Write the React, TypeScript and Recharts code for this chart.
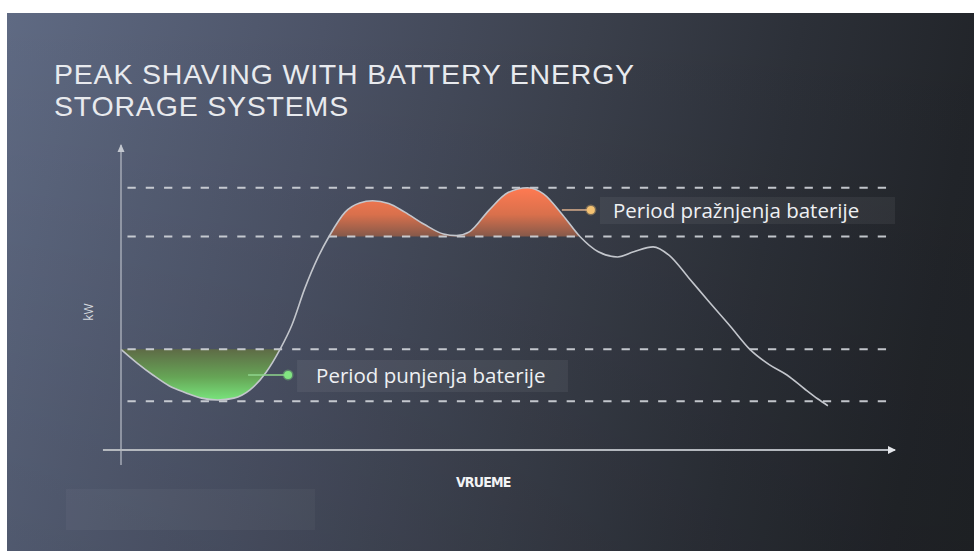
import {
  Area,
  ComposedChart,
  Label,
  Line,
  ReferenceArea,
  ReferenceDot,
  ReferenceLine,
  XAxis,
  YAxis,
} from "recharts";

// time of day (h) and load (kW)
const times = [
  0, 0.5, 1, 1.5, 2, 2.5, 3, 3.5, 4, 4.5, 4.93, 5.3, 5.7, 6.1, 6.45, 6.95, 7.4, 7.8, 8.3, 8.8, 9.4,
  10, 10.4, 10.8, 11.4, 12, 12.6, 13.1, 13.7, 14.23, 14.8, 15.4, 15.9, 16.5, 17, 17.6, 18.2, 18.9,
  19.5, 20.1, 20.65, 21.2, 21.6, 21.92,
];
const load = [
  33, 28.5, 24.5, 21, 18.8, 17, 16.4, 17, 19.7, 25.5, 33, 41, 53, 63, 70, 78, 81, 81.7, 80.8, 78, 74,
  70.8, 70.3, 71.5, 78.5, 84.4, 86, 84, 77, 70, 65, 63.3, 65, 66.6, 63.8, 56.5, 49, 40.5,
  33, 28, 24.6, 20, 16.8, 14.5,
];

const titleLines = ["PEAK SHAVING WITH BATTERY ENERGY", "STORAGE SYSTEMS"];
const guideLevels = [86, 70, 33, 16];
const chargeLevel = 33;
const dischargeLevel = 70;
const chargeWindow = [0, 4.93];
const dischargeWindow = [6.45, 14.23];

const chargeNote = { text: "Period punjenja baterije", from: 3.94, to: 5.18, y: 24.6, box: [5.46, 13.86, 19, 29.5] };
const dischargeNote = { text: "Period pražnjenja baterije", from: 13.67, to: 14.57, y: 78.7, box: [14.85, 24, 74.1, 82.95] };

const rows = times.map((t, i) => {
  const v = load[i];
  return {
    t,
    v,
    charge: t >= chargeWindow[0] && t <= chargeWindow[1] ? [Math.min(v, chargeLevel), chargeLevel] : null,
    discharge:
      t >= dischargeWindow[0] && t <= dischargeWindow[1] ? [dischargeLevel, Math.max(v, dischargeLevel)] : null,
  };
});

const noteFont = { fontFamily: "'Open Sans', sans-serif", fontSize: 20.5, fill: "#eef0f3" };

function ArrowUp(p: any) {
  return <polygon points={`${p.cx},${p.cy - 1} ${p.cx - 3.5},${p.cy + 7} ${p.cx + 3.5},${p.cy + 7}`} fill="#c4c8d0" />;
}

function ArrowRight(p: any) {
  return <polygon points={`${p.cx + 1},${p.cy} ${p.cx - 7},${p.cy - 4} ${p.cx - 7},${p.cy + 4}`} fill="#e4e6ea" />;
}

function XTitle({ viewBox }: any) {
  return (
    <text
      x={viewBox.x + viewBox.width * 0.468}
      y={viewBox.y + 37}
      textAnchor="middle"
      fill="#f2f3f5"
      fontFamily="'DejaVu Sans Condensed', 'DejaVu Sans', sans-serif"
      fontWeight="bold"
      fontSize={14}
      letterSpacing={-0.8}
    >
      VRUEME
    </text>
  );
}

function YTitle({ viewBox }: any) {
  const x = viewBox.x + 28;
  const y = viewBox.y + viewBox.height * 0.548;
  return (
    <text
      x={x}
      y={y}
      transform={`rotate(-90, ${x}, ${y})`}
      textAnchor="middle"
      dominantBaseline="central"
      fill="#d4d8de"
      fontFamily="'Open Sans', sans-serif"
      fontSize={12}
    >
      kW
    </text>
  );
}

export default function App() {
  return (
    <div style={{ position: "fixed", left: 0, top: 0, width: 974, height: 551, background: "#ffffff", overflow: "hidden" }}>
      <div
        style={{
          position: "absolute",
          left: 7,
          top: 13,
          right: 0,
          bottom: 0,
          background:
            "linear-gradient(180deg, rgba(0,0,0,0) 0%, rgba(0,0,0,0.1) 100%), linear-gradient(100deg, #5f6a83 0%, #4c5367 30%, #3b404c 55%, #2c3038 75%, #22252a 92%, #202327 100%)",
        }}
      />
      {titleLines.map((line, i) => (
        <div
          key={line}
          style={{
            position: "absolute",
            left: 54,
            top: 58 + i * 32,
            height: 32,
            fontFamily: "'Liberation Sans', Arial, sans-serif",
            fontSize: 28.5,
            letterSpacing: 0.8,
            lineHeight: "32px",
            color: "#e8eaee",
            whiteSpace: "nowrap",
          }}
        >
          {line}
        </div>
      ))}
      <div
        style={{
          position: "absolute",
          left: 66,
          top: 489,
          width: 249,
          height: 41,
          background: "rgba(255,255,255,0.035)",
        }}
      />

      <div style={{ position: "absolute", left: 0, top: 0 }}>
        <ComposedChart width={974} height={551} data={rows} margin={{ top: 145, right: 79, bottom: 71, left: 61 }}>
          <defs>
            <linearGradient id="dischargeFill" x1="0" y1="0" x2="0" y2="1">
              <stop offset="0%" stopColor="#ff7a52" />
              <stop offset="55%" stopColor="#d9704c" />
              <stop offset="100%" stopColor="#85594a" />
            </linearGradient>
            <linearGradient id="chargeFill" x1="0" y1="0" x2="0" y2="1">
              <stop offset="0%" stopColor="#5e6b46" />
              <stop offset="55%" stopColor="#66a556" />
              <stop offset="100%" stopColor="#78e47c" />
            </linearGradient>
          </defs>

          <XAxis
            dataKey="t"
            type="number"
            domain={[0, 24]}
            axisLine={false}
            tickLine={false}
            tick={false}
            height={30}
            label={<Label content={XTitle} />}
          />
          <YAxis
            type="number"
            domain={[0, 100]}
            axisLine={false}
            tickLine={false}
            tick={false}
            width={60}
            label={<Label content={YTitle} />}
          />

          <ReferenceArea
            x1={chargeNote.box[0]}
            x2={chargeNote.box[1]}
            y1={chargeNote.box[2]}
            y2={chargeNote.box[3]}
            fill="rgba(255,255,255,0.06)"
            fillOpacity={1}
            stroke="none"
            label={{ value: chargeNote.text, position: "insideLeft", offset: 19, ...noteFont }}
          />
          <ReferenceArea
            x1={dischargeNote.box[0]}
            x2={dischargeNote.box[1]}
            y1={dischargeNote.box[2]}
            y2={dischargeNote.box[3]}
            fill="rgba(255,255,255,0.06)"
            fillOpacity={1}
            stroke="none"
            label={{ value: dischargeNote.text, position: "insideLeft", offset: 13, ...noteFont }}
          />

          <Area
            dataKey="discharge"
            type="monotone"
            fill="url(#dischargeFill)"
            fillOpacity={1}
            stroke="none"
            connectNulls={false}
            isAnimationActive={false}
          />
          <Area
            dataKey="charge"
            type="monotone"
            fill="url(#chargeFill)"
            fillOpacity={1}
            stroke="none"
            connectNulls={false}
            isAnimationActive={false}
          />

          {guideLevels.map((y) => (
            <ReferenceLine
              key={y}
              segment={[{ x: 0.2, y }, { x: 23.95, y }]}
              stroke="#d3d6dc"
              strokeOpacity={0.9}
              strokeWidth={2}
              strokeDasharray="8.3 10"
              ifOverflow="visible"
            />
          ))}

          <Line
            dataKey="v"
            type="monotone"
            stroke="#c3c6cc"
            strokeWidth={1.6}
            dot={false}
            activeDot={false}
            isAnimationActive={false}
          />

          <ReferenceLine
            segment={[{ x: 0, y: -4.9 }, { x: 0, y: 100 }]}
            stroke="#a4aab6"
            strokeWidth={1.5}
            ifOverflow="visible"
          />
          <ReferenceLine
            segment={[{ x: -0.56, y: 0 }, { x: 24, y: 0 }]}
            stroke="#b4b8be"
            strokeWidth={2}
            ifOverflow="visible"
          />
          <ReferenceDot x={0} y={100} shape={ArrowUp} ifOverflow="visible" />
          <ReferenceDot x={24} y={0} shape={ArrowRight} ifOverflow="visible" />

          <ReferenceLine
            segment={[{ x: chargeNote.from, y: chargeNote.y }, { x: chargeNote.to, y: chargeNote.y }]}
            stroke="#8fd48c"
            strokeWidth={1.5}
            ifOverflow="visible"
          />
          <ReferenceDot
            x={chargeNote.to}
            y={chargeNote.y}
            r={4}
            fill="#82e482"
            stroke="rgba(130,228,130,0.35)"
            strokeWidth={3}
            ifOverflow="visible"
          />
          <ReferenceLine
            segment={[{ x: dischargeNote.from, y: dischargeNote.y }, { x: dischargeNote.to, y: dischargeNote.y }]}
            stroke="#d9ae8c"
            strokeWidth={1.5}
            ifOverflow="visible"
          />
          <ReferenceDot
            x={dischargeNote.to}
            y={dischargeNote.y}
            r={4}
            fill="#f4c272"
            stroke="rgba(244,194,114,0.35)"
            strokeWidth={3}
            ifOverflow="visible"
          />
        </ComposedChart>
      </div>
    </div>
  );
}
